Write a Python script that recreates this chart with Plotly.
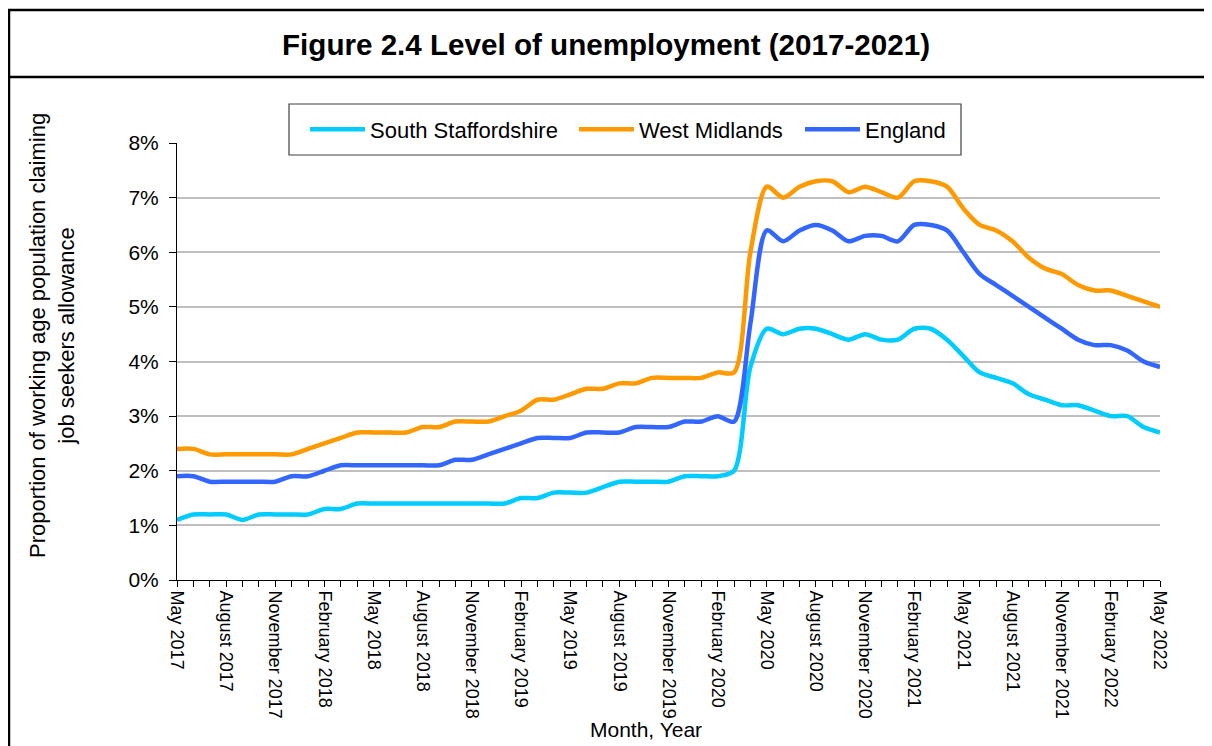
import plotly.graph_objects as go

months = [
    "May 2017", "June 2017", "July 2017", "August 2017", "September 2017", "October 2017",
    "November 2017", "December 2017", "January 2018", "February 2018", "March 2018", "April 2018",
    "May 2018", "June 2018", "July 2018", "August 2018", "September 2018", "October 2018",
    "November 2018", "December 2018", "January 2019", "February 2019", "March 2019", "April 2019",
    "May 2019", "June 2019", "July 2019", "August 2019", "September 2019", "October 2019",
    "November 2019", "December 2019", "January 2020", "February 2020", "March 2020", "April 2020",
    "May 2020", "June 2020", "July 2020", "August 2020", "September 2020", "October 2020",
    "November 2020", "December 2020", "January 2021", "February 2021", "March 2021", "April 2021",
    "May 2021", "June 2021", "July 2021", "August 2021", "September 2021", "October 2021",
    "November 2021", "December 2021", "January 2022", "February 2022", "March 2022", "April 2022",
    "May 2022",
]

labelled_months = [
    "May 2017", "August 2017", "November 2017", "February 2018", "May 2018", "August 2018",
    "November 2018", "February 2019", "May 2019", "August 2019", "November 2019", "February 2020",
    "May 2020", "August 2020", "November 2020", "February 2021", "May 2021", "August 2021",
    "November 2021", "February 2022", "May 2022",
]

south_staffordshire = [
    1.1, 1.2, 1.2, 1.2, 1.1, 1.2, 1.2, 1.2, 1.2, 1.3, 1.3, 1.4,
    1.4, 1.4, 1.4, 1.4, 1.4, 1.4, 1.4, 1.4, 1.4, 1.5, 1.5, 1.6,
    1.6, 1.6, 1.7, 1.8, 1.8, 1.8, 1.8, 1.9, 1.9, 1.9, 2.0, 3.9,
    4.6, 4.5, 4.6, 4.6, 4.5, 4.4, 4.5, 4.4, 4.4, 4.6, 4.6, 4.4,
    4.1, 3.8, 3.7, 3.6, 3.4, 3.3, 3.2, 3.2, 3.1, 3.0, 3.0, 2.8,
    2.7,
]

west_midlands = [
    2.4, 2.4, 2.3, 2.3, 2.3, 2.3, 2.3, 2.3, 2.4, 2.5, 2.6, 2.7,
    2.7, 2.7, 2.7, 2.8, 2.8, 2.9, 2.9, 2.9, 3.0, 3.1, 3.3, 3.3,
    3.4, 3.5, 3.5, 3.6, 3.6, 3.7, 3.7, 3.7, 3.7, 3.8, 3.8, 6.0,
    7.2, 7.0, 7.2, 7.3, 7.3, 7.1, 7.2, 7.1, 7.0, 7.3, 7.3, 7.2,
    6.8, 6.5, 6.4, 6.2, 5.9, 5.7, 5.6, 5.4, 5.3, 5.3, 5.2, 5.1,
    5.0,
]

england = [
    1.9, 1.9, 1.8, 1.8, 1.8, 1.8, 1.8, 1.9, 1.9, 2.0, 2.1, 2.1,
    2.1, 2.1, 2.1, 2.1, 2.1, 2.2, 2.2, 2.3, 2.4, 2.5, 2.6, 2.6,
    2.6, 2.7, 2.7, 2.7, 2.8, 2.8, 2.8, 2.9, 2.9, 3.0, 2.9, 4.7,
    6.4, 6.2, 6.4, 6.5, 6.4, 6.2, 6.3, 6.3, 6.2, 6.5, 6.5, 6.4,
    6.0, 5.6, 5.4, 5.2, 5.0, 4.8, 4.6, 4.4, 4.3, 4.3, 4.2, 4.0,
    3.9,
]

y_ticks = [0, 1, 2, 3, 4, 5, 6, 7, 8]
y_tick_labels = ["0%", "1%", "2%", "3%", "4%", "5%", "6%", "7%", "8%"]

series = [
    ("South Staffordshire", south_staffordshire, "#00CCFF", "legend", 297),
    ("West Midlands", west_midlands, "#FF9900", "legend2", 566),
    ("England", england, "#3366FF", "legend3", 792),
]

FONT = "Liberation Sans, Arial, sans-serif"
# page body has an 8px margin; figure coordinates = screen - 8
W, H = 1204, 738
L, R, T, B = 169, 52, 135, 166
PW, PH = W - L - R, H - T - B


def px_x(px):
    return (px - L) / PW


def px_y(py):
    return (H - B - py) / PH


fig = go.Figure()
legend_layouts = {}
for name, vals, color, leg, lx in series:
    fig.add_trace(go.Scatter(
        x=months, y=vals, name=name, mode="lines", legend=leg,
        line=dict(color=color, width=4.5, shape="spline", smoothing=0.8),
    ))
    legend_layouts[leg] = dict(
        orientation="h", x=px_x(lx), xanchor="left", y=px_y(121.5), yanchor="middle",
        bgcolor="rgba(0,0,0,0)", borderwidth=0, itemwidth=55,
        font=dict(size=22, family=FONT, color="black"),
    )

ticktext = [m if m in labelled_months else "" for m in months]

fig.update_layout(
    width=W, height=H,
    margin=dict(l=L, r=R, t=T, b=B),
    paper_bgcolor="white", plot_bgcolor="white",
    font=dict(family=FONT, color="black"),
    title=dict(
        text="<b>Figure 2.4 Level of unemployment (2017-2021)</b>",
        x=(606 - 8) / W, xanchor="center", y=1 - 37 / H, yanchor="middle",
        font=dict(size=29.6, family=FONT, color="black"),
    ),
    showlegend=True,
    **legend_layouts,
    xaxis=dict(
        type="category", categoryorder="array", categoryarray=months,
        range=[0, len(months) - 1],
        tickmode="array", tickvals=months, ticktext=ticktext,
        tickangle=90, tickfont=dict(size=18, family=FONT, color="black"),
        ticks="outside", ticklen=6, tickcolor="black", tickwidth=1,
        ticklabelstandoff=0,
        showline=True, linecolor="black", linewidth=1,
        showgrid=False, zeroline=False,
    ),
    yaxis=dict(
        range=[0, 8], tickmode="array", tickvals=y_ticks, ticktext=y_tick_labels,
        tickfont=dict(size=21, family=FONT, color="black"),
        ticks="outside", ticklen=7, tickcolor="black", tickwidth=1,
        ticklabelstandoff=6,
        showline=True, linecolor="black", linewidth=1,
        showgrid=True, gridcolor="#BFBFBF", gridwidth=2, zeroline=False,
    ),
    shapes=[
        # frame lines
        dict(type="line", xref="paper", yref="paper", x0=px_x(0), x1=px_x(W + 5),
             y0=px_y(2), y1=px_y(2), line=dict(color="black", width=2.5)),
        dict(type="line", xref="paper", yref="paper", x0=px_x(0), x1=px_x(W + 5),
             y0=px_y(69), y1=px_y(69), line=dict(color="black", width=2.5)),
        dict(type="line", xref="paper", yref="paper", x0=px_x(1), x1=px_x(1),
             y0=px_y(2), y1=px_y(H + 5), line=dict(color="black", width=2.5)),
        # legend box
        dict(type="rect", xref="paper", yref="paper", layer="above",
             x0=px_x(281), x1=px_x(953), y0=px_y(96), y1=px_y(147),
             fillcolor="white", line=dict(color="#404040", width=1.2)),
    ],
    annotations=[
        dict(text="Month, Year", xref="paper", yref="paper",
             x=px_x(638), y=px_y(721), xanchor="center", yanchor="middle",
             showarrow=False, font=dict(size=21, family=FONT, color="black")),
        dict(text="Proportion of working age population claiming<br>job seekers allowance",
             xref="paper", yref="paper", x=px_x(44), y=px_y(328),
             xanchor="center", yanchor="middle", textangle=-90,
             showarrow=False, font=dict(size=22, family=FONT, color="black")),
    ],
)

fig.write_html("out.html")
